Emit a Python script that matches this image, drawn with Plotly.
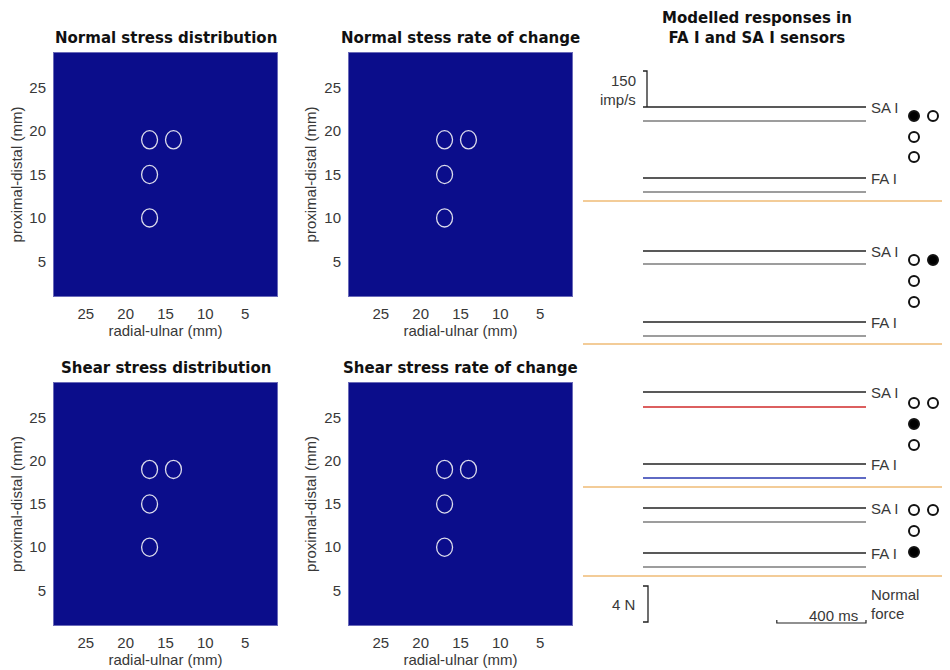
import numpy as np
import plotly.graph_objects as go

# page body adds an 8px margin: figure drawn at (8, 8) in the window
OFF = 8
W, H = 950 - OFF, 670 - OFF

def PX(px):
    return (px - OFF) / W

def PY(py):
    return 1 - (py - OFF) / H

# ---------------- data ----------------
panel_titles = ["Normal stress distribution", "Normal stess rate of change",
                "Shear stress distribution", "Shear stress rate of change"]
grid_mm = list(np.arange(1.5, 29.0, 1.0))          # cell centres (mm)
stress_zero = [[0.0] * len(grid_mm) for _ in grid_mm]  # uniform (zero) field shown
sensor_x_mm = [17, 14, 17, 17]
sensor_y_mm = [19, 19, 15, 10]
sensor_radius_mm = 1.0
x_ticks = [25, 20, 15, 10, 5]
y_ticks = [5, 10, 15, 20, 25]

time_ms = [0, 1000]
# modelled responses (imp/s) - flat traces in this frame
sa_rate = [[0, 0], [0, 0], [0, 0], [0, 0]]
sa_rate2 = [[0, 0], [0, 0], [0, 0], [0, 0]]
fa_rate = [[0, 0], [0, 0], [0, 0], [0, 0]]
fa_rate2 = [[0, 0], [0, 0], [0, 0], [0, 0]]
# stacking baselines (rows) for each group of traces
sa_base = [107, 251, 392, 508]
sa2_base = [121, 264, 407, 522]
fa_base = [178, 322, 464, 553]
fa2_base = [192, 336, 478, 567]
second_colors_sa = ["#7c7c7c", "#7c7c7c", "#d02a2a", "#7c7c7c"]
second_colors_fa = ["#7c7c7c", "#7c7c7c", "#2a38b0", "#7c7c7c"]
separators = [201, 344, 487, 576]
active_sensor = [0, 1, 2, 3]
dot_rows = [[116, 137, 157], [260, 281, 302], [403, 424, 445], [510, 531, 552]]
rate_scale = 150   # imp/s
force_scale = 4    # N
time_scale = 400   # ms

# ---------------- layout geometry ----------------
ms_per_px = 1000 / 223
rx0 = -(643 - 580) * ms_per_px
rx1 = (950 - 643) * ms_per_px
rows_per_imp = 36 / 150
rows_per_N = 36 / 4

panels = [  # (x0px, x1px, y0px, y1px) in window pixels
    (54, 277, 53, 296), (349, 572, 53, 296),
    (54, 277, 383, 625), (349, 572, 383, 625)]

FONT = "Liberation Sans, Arial, sans-serif"
TFONT = "DejaVu Sans, Arial, sans-serif"
TXT = "#383838"

fig = go.Figure()
colorscale = [[0, "#0b0d8b"], [0.35, "#1f5fff"], [0.5, "#2fe8ff"],
              [0.65, "#f8f020"], [1, "#a00000"]]

layout = dict(width=W, height=H, margin=dict(l=0, r=0, t=0, b=0),
              paper_bgcolor="white", plot_bgcolor="white", showlegend=False,
              font=dict(family=FONT, size=15, color=TXT))
shapes, annotations = [], []

for i, (px0, px1, py0, py1) in enumerate(panels):
    k = i + 1
    xa = "x" if k == 1 else f"x{k}"
    ya = "y" if k == 1 else f"y{k}"
    fig.add_trace(go.Heatmap(x=grid_mm, y=grid_mm, z=stress_zero, zmin=0, zmax=1,
                             colorscale=colorscale, showscale=False,
                             xaxis=xa, yaxis=ya, hoverinfo="skip"))
    xkey = "xaxis" if k == 1 else f"xaxis{k}"
    ykey = "yaxis" if k == 1 else f"yaxis{k}"
    layout[xkey] = dict(domain=[PX(px0), PX(px1)], anchor=ya, range=[29, 1],
                        tickvals=x_ticks, ticks="", showgrid=False, zeroline=False,
                        ticklabelstandoff=4, showline=True, mirror=True,
                        linecolor="#6a6ab8", linewidth=1,
                        tickfont=dict(size=15, color=TXT),
                        title=dict(text="radial-ulnar (mm)", standoff=1,
                                   font=dict(size=15, color=TXT)))
    layout[ykey] = dict(domain=[PY(py1), PY(py0)], anchor=xa, range=[1, 29],
                        tickvals=y_ticks, ticks="", showgrid=False, zeroline=False,
                        ticklabelstandoff=4, showline=True, mirror=True,
                        linecolor="#6a6ab8", linewidth=1,
                        tickfont=dict(size=15, color=TXT),
                        title=dict(text="proximal-distal (mm)", standoff=4,
                                   font=dict(size=15, color=TXT)))
    for sx, sy in zip(sensor_x_mm, sensor_y_mm):
        shapes.append(dict(type="circle", xref=xa, yref=ya,
                           x0=sx - sensor_radius_mm, x1=sx + sensor_radius_mm,
                           y0=sy - sensor_radius_mm * 1.05, y1=sy + sensor_radius_mm * 1.05,
                           line=dict(color="#dcdcec", width=1.3)))
    annotations.append(dict(text="<b>" + panel_titles[i] + "</b>", xref="paper", yref="paper",
                            x=PX((px0 + px1) / 2), y=PY(py0 - 15), showarrow=False,
                            xanchor="center", yanchor="middle",
                            font=dict(family=TFONT, size=15, color="#111")))

# ---------------- right panel: modelled responses ----------------
XR, YR = "x5", "y5"
layout["xaxis5"] = dict(domain=[PX(580), 1.0], range=[rx0, rx1], visible=False, anchor=YR)
layout["yaxis5"] = dict(domain=[0, 1], range=[670, OFF], visible=False, anchor=XR)

def add_line(xs, ys, color, width=1.3):
    fig.add_trace(go.Scatter(x=xs, y=ys, mode="lines", xaxis=XR, yaxis=YR,
                             line=dict(color=color, width=width), hoverinfo="skip",
                             cliponaxis=False))

for g in range(4):
    add_line(time_ms, [sa_base[g] - v * rows_per_imp for v in sa_rate[g]], "#222222")
    add_line(time_ms, [sa2_base[g] - v * rows_per_imp for v in sa_rate2[g]], second_colors_sa[g])
    add_line(time_ms, [fa_base[g] - v * rows_per_imp for v in fa_rate[g]], "#222222")
    add_line(time_ms, [fa2_base[g] - v * rows_per_imp for v in fa_rate2[g]], second_colors_fa[g])
    annotations.append(dict(text="SA I", xref=XR, yref=YR, x=time_ms[-1] + 3 * ms_per_px,
                            y=sa_base[g], xanchor="left", yanchor="middle", showarrow=False,
                            font=dict(size=15, color=TXT)))
    annotations.append(dict(text="FA I", xref=XR, yref=YR, x=time_ms[-1] + 3 * ms_per_px,
                            y=fa_base[g], xanchor="left", yanchor="middle", showarrow=False,
                            font=dict(size=15, color=TXT)))
    # sensor layout dots
    col_x = [(914 - 643) * ms_per_px, (933 - 643) * ms_per_px]
    r = dot_rows[g]
    dx = [col_x[0], col_x[1], col_x[0], col_x[0]]
    dy = [r[0], r[0], r[1], r[2]]
    fills = ["#000000" if j == active_sensor[g] else "#ffffff" for j in range(4)]
    fig.add_trace(go.Scatter(x=dx, y=dy, mode="markers", xaxis=XR, yaxis=YR,
                             marker=dict(size=10, color=fills,
                                         line=dict(color="#111", width=2)),
                             hoverinfo="skip", cliponaxis=False))

for s in separators:
    shapes.append(dict(type="line", xref="paper", yref=YR, x0=PX(583), x1=1.0, y0=s, y1=s,
                       line=dict(color="#f3cc98", width=2)))

# 150 imp/s scale bar
tick_ms = 4 * ms_per_px
bar_bottom = sa_base[0]
bar_top = bar_bottom - rate_scale * rows_per_imp
add_line([0, tick_ms, tick_ms], [bar_top, bar_top, bar_bottom], "#222222", 1.3)
annotations.append(dict(text="150", xref=XR, yref=YR, x=-5 * ms_per_px, y=bar_top + 9,
                        xanchor="right", yanchor="middle", showarrow=False,
                        font=dict(size=15, color=TXT)))
annotations.append(dict(text="imp/s", xref=XR, yref=YR, x=-5 * ms_per_px, y=bar_top + 28,
                        xanchor="right", yanchor="middle", showarrow=False,
                        font=dict(size=15, color=TXT)))

# 4 N scale bar
f_top = 586
f_bot = f_top + force_scale * rows_per_N
add_line([0, 5 * ms_per_px, 5 * ms_per_px, 0], [f_top, f_top, f_bot, f_bot], "#222222", 1.3)
annotations.append(dict(text="4 N", xref=XR, yref=YR, x=-6 * ms_per_px, y=(f_top + f_bot) / 2,
                        xanchor="right", yanchor="middle", showarrow=False,
                        font=dict(size=15, color=TXT)))

# 400 ms scale bar
t_end = time_ms[-1]
t_start = t_end - time_scale
add_line([t_start, t_start, t_end, t_end], [f_bot - 2, f_bot + 1, f_bot + 1, f_bot - 2],
         "#222222", 1.2)
annotations.append(dict(text="400 ms", xref=XR, yref=YR, x=t_end - 6 * ms_per_px, y=f_bot - 7,
                        xanchor="right", yanchor="middle", showarrow=False,
                        font=dict(size=15, color=TXT)))
annotations.append(dict(text="Normal", xref=XR, yref=YR, x=t_end + 3 * ms_per_px, y=594,
                        xanchor="left", yanchor="middle", showarrow=False,
                        font=dict(size=15, color=TXT)))
annotations.append(dict(text="force", xref=XR, yref=YR, x=t_end + 3 * ms_per_px, y=613,
                        xanchor="left", yanchor="middle", showarrow=False,
                        font=dict(size=15, color=TXT)))

annotations.append(dict(text="<b>Modelled responses in<br>FA I and SA I sensors</b>",
                        xref="paper", yref="paper", x=PX(757), y=PY(28),
                        xanchor="center", yanchor="middle", showarrow=False,
                        font=dict(family=TFONT, size=15, color="#111")))

layout["shapes"] = shapes
layout["annotations"] = annotations
fig.update_layout(**layout)
fig.write_html("out.html")
